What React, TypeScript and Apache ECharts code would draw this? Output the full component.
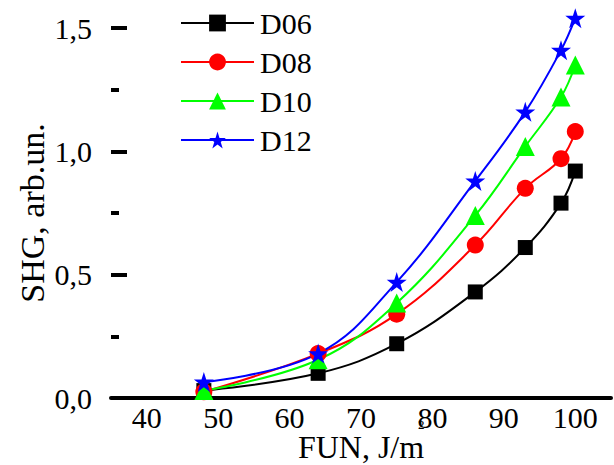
import React, { useEffect, useRef } from "react";
import * as echarts from "echarts";

const xValues = [48, 64, 75, 86, 93, 98, 100];
const d06 = [0.03, 0.1, 0.22, 0.43, 0.61, 0.79, 0.92];
const d08 = [0.025, 0.18, 0.34, 0.62, 0.85, 0.97, 1.08];
const d10 = [0.03, 0.155, 0.385, 0.74, 1.02, 1.22, 1.35];
const d12 = [0.065, 0.18, 0.47, 0.88, 1.16, 1.41, 1.54];
const seriesNames = ["D06", "D08", "D10", "D12"];
const xTitle = "FUN, J/m";
const yTitle = "SHG, arb.un.";

const FONT = "Liberation Serif";
const STAR =
  "path://M10 0 L12.245 6.91 L19.511 6.91 L13.633 11.18 L15.878 18.09 L10 13.82 L4.122 18.09 L6.367 11.18 L0.489 6.91 L7.755 6.91 Z";

export default function App() {
  const ref = useRef<HTMLDivElement>(null);
  useEffect(() => {
    if (!ref.current) return;
    const chart = echarts.init(ref.current, null, { renderer: "svg" });
    const mk = (vals: number[]) => xValues.map((x, i) => [x, vals[i]]);
    const specs = [
      { name: seriesNames[0], data: d06, color: "#000000", symbol: "rect", size: 15 },
      { name: seriesNames[1], data: d08, color: "#ff0000", symbol: "circle", size: 17 },
      { name: seriesNames[2], data: d10, color: "#00ff00", symbol: "triangle", size: 19 },
      { name: seriesNames[3], data: d12, color: "#0000ff", symbol: STAR, size: 20 },
    ];
    chart.setOption({
      animation: false,
      backgroundColor: "#ffffff",
      grid: {
        left: 111,
        right: 3,
        top: 28,
        bottom: 67,
        containLabel: false,
        outerBoundsMode: "none",
      },
      legend: {
        orient: "vertical",
        left: 180,
        top: 8,
        padding: 0,
        itemWidth: 73,
        itemHeight: 21,
        itemGap: 9,
        textStyle: { fontSize: 30, fontFamily: FONT, color: "#000", padding: [0, 0, 0, 1] },
        data: seriesNames,
      },
      xAxis: {
        type: "value",
        min: 35,
        max: 105,
        interval: 5,
        name: xTitle,
        nameLocation: "middle",
        nameGap: 35,
        nameMoveOverlap: false,
        nameTextStyle: { fontSize: 32, lineHeight: 28, fontFamily: FONT, color: "#000" },
        axisLine: { show: true, lineStyle: { color: "#000", width: 4 } },
        axisTick: { show: false },
        splitLine: { show: false },
        axisLabel: {
          fontSize: 30,
          lineHeight: 24,
          fontFamily: FONT,
          color: "#000",
          margin: 7,
          showMinLabel: false,
          showMaxLabel: false,
          formatter: (v: number) => (v % 10 === 0 ? String(v) : ""),
        },
      },
      yAxis: {
        type: "value",
        min: 0,
        max: 1.5,
        interval: 0.5,
        name: yTitle,
        nameLocation: "middle",
        nameGap: 62,
        nameMoveOverlap: false,
        nameTextStyle: { fontSize: 34, fontFamily: FONT, color: "#000" },
        axisLine: { show: false },
        axisTick: { show: true, inside: true, length: 16, lineStyle: { color: "#000", width: 4 } },
        minorTick: { show: true, splitNumber: 2, length: 8, lineStyle: { color: "#000", width: 4 } },
        splitLine: { show: false },
        axisLabel: {
          fontSize: 30,
          fontFamily: FONT,
          color: "#000",
          margin: 19,
          formatter: (v: number) => v.toFixed(1).replace(".", ","),
        },
      },
      graphic: [
        {
          type: "text",
          left: 418,
          top: 418,
          z: 100,
          style: { text: "2", fontSize: 13, fontFamily: FONT, fill: "#000" },
        },
      ],
      series: specs.map((s) => ({
        name: s.name,
        type: "line",
        data: mk(s.data),
        smooth: 0.4,
        clip: false,
        symbol: s.symbol,
        symbolSize: s.size,
        color: s.color,
        lineStyle: { color: s.color, width: 2 },
        itemStyle: { color: s.color },
      })),
    });
    return () => chart.dispose();
  }, []);
  return (
    <div
      ref={ref}
      style={{ position: "fixed", left: 0, top: 0, width: 614, height: 465, background: "#fff" }}
    />
  );
}
